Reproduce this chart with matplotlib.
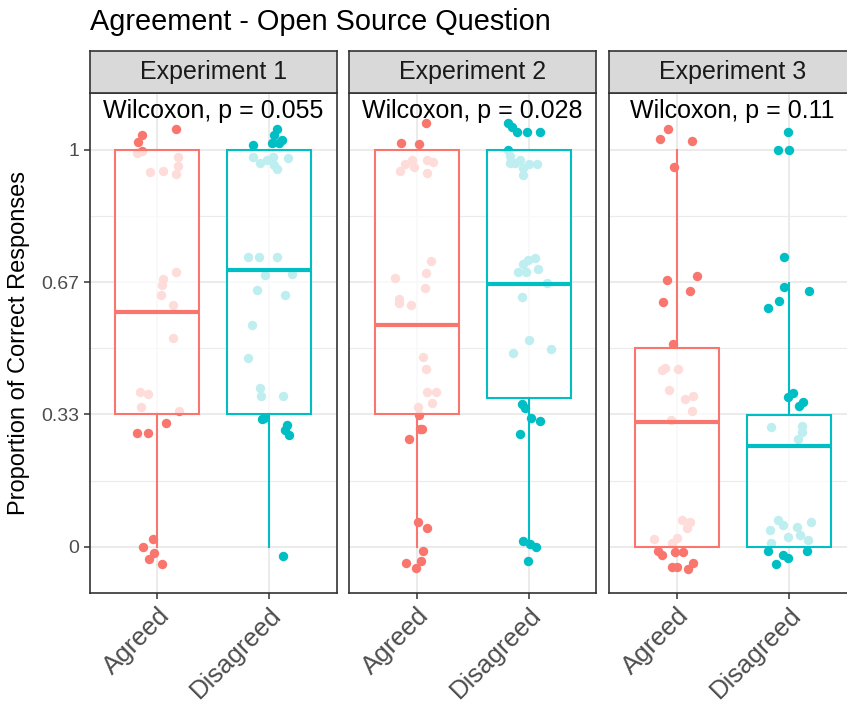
import matplotlib
matplotlib.use("Agg")
import matplotlib.pyplot as plt

plt.rcParams['font.family'] = ['Liberation Sans', 'DejaVu Sans']

experiments = ["Experiment 1", "Experiment 2", "Experiment 3"]
groups = ["Agreed", "Disagreed"]
p_labels = ["Wilcoxon, p = 0.055", "Wilcoxon, p = 0.028", "Wilcoxon, p = 0.11"]
colors = ["#F8766D", "#00BFC4"]

# box stats per experiment, [Agreed, Disagreed]
q1 = [[1/3, 1/3], [1/3, 0.374], [0.0, 0.0]]
med = [[0.591, 0.698], [0.559, 0.662], [0.315, 0.254]]
q3 = [[1.0, 1.0], [1.0, 1.0], [0.5, 0.333]]
whislo = [[0.0, 0.0], [0.0, 0.0], [0.0, 0.0]]
whishi = [[1.0, 1.0], [1.0, 1.0], [1.0, 0.664]]

# jittered points (x in category units, y = proportion)
e1_agreed_x = [0.861, 0.831, 1.164, 0.823, 0.86, 1.187, 1.187, 0.935, 1.054, 1.167,
               1.167, 1.051, 1.045, 1.033, 1.137, 1.143, 0.846, 0.914, 0.852, 1.196,
               1.075, 0.818, 0.914, 0.960, 0.876, 0.971, 0.930, 1.043]
e1_agreed_y = [1.038, 1.019, 1.052, 0.993, 0.998, 0.983, 0.960, 0.943, 0.947, 0.939,
               0.691, 0.674, 0.660, 0.634, 0.609, 0.525, 0.391, 0.384, 0.353, 0.343,
               0.311, 0.287, 0.287, 0.019, 0.0, -0.015, -0.030, -0.044]
e1_disagreed_x = [2.065, 2.044, 2.109, 2.02, 2.088, 1.856, 1.856, 1.916, 1.976, 2.044,
                  2.07, 2.168, 2.03, 1.812, 1.91, 2.065, 1.961, 2.199, 1.887, 2.139,
                  1.842, 1.806, 1.916, 1.922, 2.124, 1.931, 1.95, 2.154, 2.139, 2.177, 2.118]
e1_disagreed_y = [1.052, 1.038, 1.025, 1.017, 1.017, 1.013, 0.983, 0.966, 0.975, 0.962,
                  0.951, 0.979, 0.983, 0.729, 0.731, 0.729, 0.685, 0.687, 0.647, 0.634,
                  0.559, 0.475, 0.401, 0.380, 0.380, 0.321, 0.325, 0.307, 0.294, 0.282, -0.023]

e2_agreed_x = [1.084, 0.861, 1.024, 0.956, 0.897, 1.096, 1.144, 0.977, 0.852, 1.09,
               1.126, 1.084, 0.808, 1.075, 0.846, 0.846, 0.95, 1.06, 1.081, 1.096,
               1.17, 1.135, 1.015, 1.024, 1.03, 1.045, 0.935, 1.015, 1.096, 1.055,
               1.039, 0.906, 0.995]
e2_agreed_y = [1.067, 1.017, 1.015, 0.975, 0.964, 0.975, 0.969, 0.958, 0.946, 0.941,
               0.721, 0.689, 0.678, 0.651, 0.624, 0.614, 0.608, 0.479, 0.447, 0.391,
               0.391, 0.361, 0.353, 0.332, 0.296, 0.296, 0.271, 0.063, 0.048, -0.010,
               -0.035, -0.042, -0.054]
e2_disagreed_x = [1.818, 1.848, 1.893, 1.982, 2.1, 1.818, 1.833, 1.922, 1.878, 1.833,
                  1.946, 1.952, 2.071, 2.0, 2.056, 1.996, 1.946, 2.08, 1.902, 1.976,
                  2.16, 1.94, 2.005, 1.857, 2.196, 1.937, 1.967, 2.018, 2.1, 1.922,
                  1.946, 2.011, 2.062, 1.996]
e2_disagreed_y = [1.067, 1.057, 1.046, 1.046, 1.044, 1.0, 0.985, 0.975, 0.966, 0.966,
                  0.954, 0.937, 0.964, 0.964, 0.727, 0.723, 0.712, 0.699, 0.691, 0.692,
                  0.664, 0.629, 0.521, 0.488, 0.498, 0.359, 0.349, 0.325, 0.317, 0.284,
                  0.014, 0.007, -0.002, -0.035]

e3_agreed_x = [0.926, 0.852, 1.135, 0.977, 0.912, 1.179, 1.12, 0.876, 0.971, 0.867,
               0.90, 1.015, 0.935, 1.075, 1.144, 1.135, 0.947, 1.046, 1.12, 1.096,
               0.799, 1.001, 0.956, 0.837, 0.867, 0.986, 1.055, 0.956, 1.006, 1.104, 1.149]
e3_agreed_y = [1.052, 1.027, 1.023, 0.956, 0.671, 0.682, 0.645, 0.616, 0.510, 0.444,
               0.450, 0.447, 0.395, 0.372, 0.380, 0.342, 0.319, 0.067, 0.063, 0.046,
               0.019, 0.021, 0.009, -0.010, -0.021, -0.013, -0.013, -0.050, -0.052, -0.057, -0.042]
e3_disagreed_x = [1.996, 1.902, 2.005, 1.962, 2.183, 1.956, 1.913, 1.818, 1.996, 2.041,
                  2.094, 2.13, 1.839, 2.116, 2.116, 2.086, 1.907, 1.833, 2.076, 2.196,
                  1.996, 2.1, 2.175, 1.842, 1.95, 1.818, 1.952, 1.996, 2.165, 1.887]
e3_disagreed_y = [1.046, 1.0, 1.0, 0.731, 0.644, 0.655, 0.618, 0.601, 0.378, 0.388,
                  0.355, 0.364, 0.302, 0.304, 0.290, 0.271, 0.067, 0.042, 0.050, 0.063,
                  0.025, 0.029, 0.017, 0.009, 0.055, -0.010, -0.021, -0.029, -0.010, -0.044]

points = [
    [(e1_agreed_x, e1_agreed_y), (e1_disagreed_x, e1_disagreed_y)],
    [(e2_agreed_x, e2_agreed_y), (e2_disagreed_x, e2_disagreed_y)],
    [(e3_agreed_x, e3_agreed_y), (e3_disagreed_x, e3_disagreed_y)],
]

W, H = 847, 704
fig = plt.figure(figsize=(W / 100, H / 100), dpi=100)

lefts = [90, 349.3, 609.3]
pw = 246.7
ptop, pbot = 92.7, 592.7
stop = 50.7
border = "#333333"

for i in range(3):
    ax = fig.add_axes([lefts[i] / W, 1 - pbot / H, pw / W, (pbot - ptop) / H])
    ax.set_xlim(0.4, 2.6)
    ax.set_ylim(-0.116, 1.144)
    ax.set_yticks([0, 1/3, 2/3, 1])
    ax.set_yticks([1/6, 0.5, 5/6], minor=True)
    ax.set_xticks([1, 2])
    ax.grid(True, which="major", color="#EBEBEB", lw=1.4, zorder=0)
    ax.grid(True, which="minor", axis="y", color="#EBEBEB", lw=0.8, zorder=0)
    ax.set_axisbelow(True)
    for s in ax.spines.values():
        s.set_color(border)
        s.set_linewidth(1.2)
    ax.tick_params(axis="both", which="major", length=4, width=1.1, color=border)
    ax.tick_params(axis="y", which="minor", length=0)
    ax.set_xticklabels(groups, rotation=45, ha="right", va="top",
                       rotation_mode="anchor", fontsize=18.5, color="#4D4D4D")
    if i == 0:
        ax.set_yticklabels(["0", "0.33", "0.67", "1"], fontsize=14, color="#4D4D4D")
        ax.set_ylabel("Proportion of Correct Responses", fontsize=17, labelpad=8)
    else:
        ax.tick_params(axis="y", which="major", length=0, labelleft=False)

    for g in range(2):
        xs, ys = points[i][g]
        ax.scatter(xs, ys, s=46, color=colors[g], linewidths=0, zorder=2)
        stats = [dict(med=med[i][g], q1=q1[i][g], q3=q3[i][g],
                      whislo=whislo[i][g], whishi=whishi[i][g], fliers=[])]
        ax.bxp(stats, positions=[g + 1], widths=0.75, patch_artist=True,
               showfliers=False, showcaps=False, manage_ticks=False,
               boxprops=dict(facecolor=(1, 1, 1, 0.75), edgecolor=colors[g], lw=1.5),
               whiskerprops=dict(color=colors[g], lw=1.5),
               medianprops=dict(color=colors[g], lw=3, solid_capstyle="butt"),
               zorder=3)
    ax.text(1.5, 1.097, p_labels[i], ha="center", va="center", fontsize=18, zorder=5)

    sax = fig.add_axes([lefts[i] / W, 1 - ptop / H, pw / W, (ptop - stop) / H])
    sax.set_facecolor("#D9D9D9")
    sax.set_xticks([])
    sax.set_yticks([])
    for s in sax.spines.values():
        s.set_color(border)
        s.set_linewidth(1.2)
    sax.text(0.5, 0.5, experiments[i], ha="center", va="center",
             fontsize=18, color="#1A1A1A", transform=sax.transAxes)

fig.text(90 / W, 1 - 22 / H, "Agreement - Open Source Question",
         ha="left", va="center", fontsize=20.8)

fig.savefig("out.png", dpi=100)
